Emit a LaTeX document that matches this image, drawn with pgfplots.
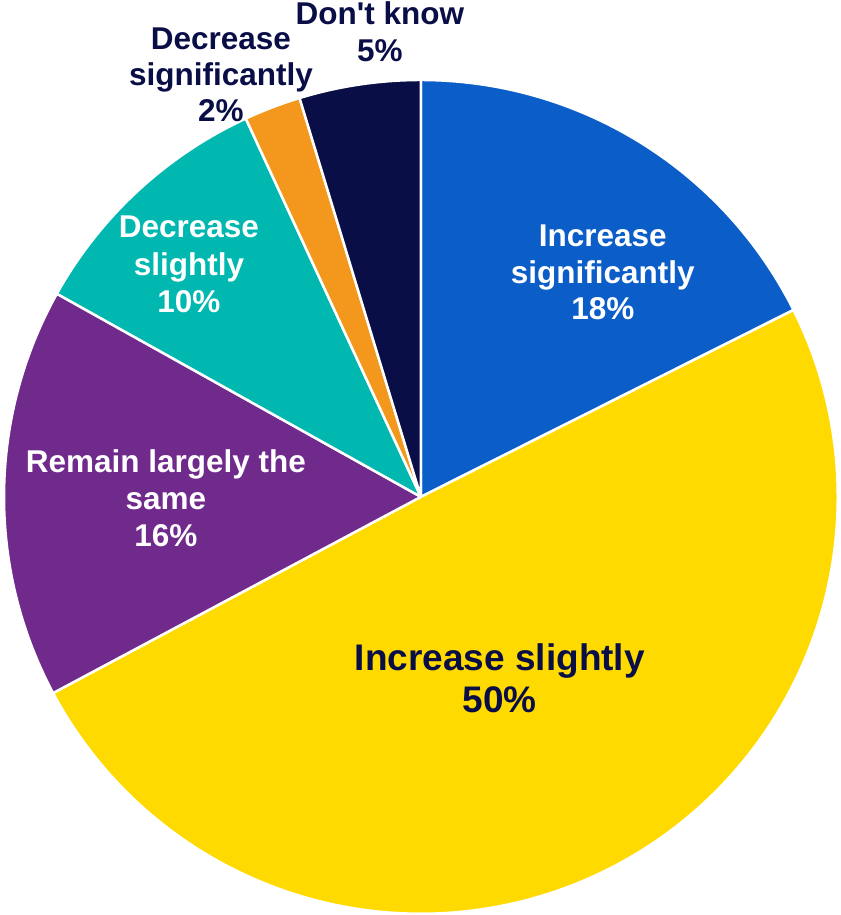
\documentclass[border=0pt]{standalone}
\usepackage{pgfplots}
\usepackage{pgfplotstable}
\pgfplotsset{compat=1.18}
\usepackage{fontspec}
\setmainfont{Liberation Sans}
\definecolor{cIS}{RGB}{11,94,200}
\definecolor{cISl}{RGB}{255,218,0}
\definecolor{cRem}{RGB}{111,42,140}
\definecolor{cDSl}{RGB}{0,184,176}
\definecolor{cDS}{RGB}{243,152,29}
\definecolor{cDK}{RGB}{10,14,70}
\pgfplotstableread{
label value
IncSig 17.6
IncSl 49.6
Remain 15.9
DecSl 10.0
DecSig 2.2
DK 4.7
}\piedata
\newcommand{\sm}{\fontsize{31.5}{36}\selectfont\bfseries}
\newcommand{\bg}{\fontsize{37}{42}\selectfont\bfseries}
\begin{document}
\begin{tikzpicture}
\pgfmathsetmacro\aA{90}
\pgfplotstablegetelem{0}{value}\of\piedata\pgfmathsetmacro\aB{\aA-3.6*\pgfplotsretval}
\pgfplotstablegetelem{1}{value}\of\piedata\pgfmathsetmacro\aC{\aB-3.6*\pgfplotsretval}
\pgfplotstablegetelem{2}{value}\of\piedata\pgfmathsetmacro\aD{\aC-3.6*\pgfplotsretval}
\pgfplotstablegetelem{3}{value}\of\piedata\pgfmathsetmacro\aE{\aD-3.6*\pgfplotsretval}
\pgfplotstablegetelem{4}{value}\of\piedata\pgfmathsetmacro\aF{\aE-3.6*\pgfplotsretval}
\pgfmathsetmacro\aG{\aA-360}
\begin{axis}[x=1pt, y=1pt, xmin=0, xmax=841, ymin=0, ymax=915, hide axis, clip=false,
  axis line style={draw=none}]
\path (axis cs:0,0) rectangle (axis cs:841,915);
\addplot[fill=cIS, draw=white, line width=2.5pt, line join=round, domain=\aB:\aA, samples=90, variable=\t] ({421+417*cos(t)},{418+417*sin(t)}) -- (axis cs:421,418) -- cycle;
\addplot[fill=cISl, draw=white, line width=2.5pt, line join=round, domain=\aC:\aB, samples=180, variable=\t] ({421+417*cos(t)},{418+417*sin(t)}) -- (axis cs:421,418) -- cycle;
\addplot[fill=cRem, draw=white, line width=2.5pt, line join=round, domain=\aD:\aC, samples=80, variable=\t] ({421+417*cos(t)},{418+417*sin(t)}) -- (axis cs:421,418) -- cycle;
\addplot[fill=cDSl, draw=white, line width=2.5pt, line join=round, domain=\aE:\aD, samples=60, variable=\t] ({421+417*cos(t)},{418+417*sin(t)}) -- (axis cs:421,418) -- cycle;
\addplot[fill=cDS, draw=white, line width=2.5pt, line join=round, domain=\aF:\aE, samples=20, variable=\t] ({421+417*cos(t)},{418+417*sin(t)}) -- (axis cs:421,418) -- cycle;
\addplot[fill=cDK, draw=white, line width=2.5pt, line join=round, domain=\aG:\aF, samples=30, variable=\t] ({421+417*cos(t)},{418+417*sin(t)}) -- (axis cs:421,418) -- cycle;
% labels
\node[anchor=base, text=white, font=\sm, inner sep=0pt] at (axis cs:603,668) {Increase};
\node[anchor=base, text=white, font=\sm, inner sep=0pt] at (axis cs:603,631.5) {significantly};
\node[anchor=base, text=white, font=\sm, inner sep=0pt] at (axis cs:603,595) {18\%};
\node[anchor=base, text=cDK, font=\bg, inner sep=0pt] at (axis cs:500,244) {Increase slightly};
\node[anchor=base, text=cDK, font=\bg, inner sep=0pt] at (axis cs:500,202) {50\%};
\node[anchor=base, text=white, font=\sm, inner sep=0pt] at (axis cs:166,442) {Remain largely the};
\node[anchor=base, text=white, font=\sm, inner sep=0pt] at (axis cs:166,405) {same};
\node[anchor=base, text=white, font=\sm, inner sep=0pt] at (axis cs:166,368) {16\%};
\node[anchor=base, text=white, font=\sm, inner sep=0pt] at (axis cs:189,677) {Decrease};
\node[anchor=base, text=white, font=\sm, inner sep=0pt] at (axis cs:189,639.5) {slightly};
\node[anchor=base, text=white, font=\sm, inner sep=0pt] at (axis cs:189,602) {10\%};
\node[anchor=base, text=cDK, font=\sm, inner sep=0pt] at (axis cs:221,865) {Decrease};
\node[anchor=base, text=cDK, font=\sm, inner sep=0pt] at (axis cs:221,829) {significantly};
\node[anchor=base, text=cDK, font=\sm, inner sep=0pt] at (axis cs:221,793) {2\%};
\node[anchor=base, text=cDK, font=\sm, inner sep=0pt] at (axis cs:380,890) {Don\textquotesingle t know};
\node[anchor=base, text=cDK, font=\sm, inner sep=0pt] at (axis cs:380,853) {5\%};
\end{axis}
\end{tikzpicture}
\end{document}
